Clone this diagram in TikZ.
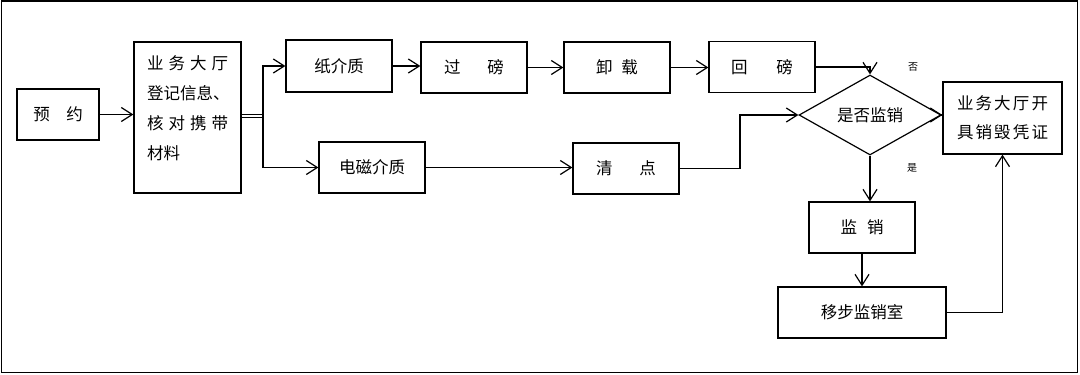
\documentclass[tikz,border=0pt]{standalone}
\usepackage{fontspec}
\setmainfont{Noto Sans CJK SC}
\usetikzlibrary{arrows.meta,shapes.geometric}
\begin{document}
\begin{tikzpicture}[x=1pt,y=-1pt,
  box/.style={draw, line width=1.2pt, inner sep=0pt, minimum width=106pt, minimum height=51pt, font=\fontsize{16.5}{19}\selectfont},
  arr/.style={draw, line width=1.2pt, -{Straight Barb[length=11pt,width=14pt,line width=1.2pt]}},
  lbl/.style={font=\fontsize{10}{12}\selectfont, inner sep=0pt}
]
\useasboundingbox (0,0) rectangle (1080,375);
\draw[line width=1.2pt] (1.2,1.0) rectangle (1077.5,372.5);

\node[box, minimum width=82pt] (yy) at (58,114.5) {预　约};
\node[box, minimum width=107pt, minimum height=151pt] (reg) at (187.5,117.5) {};
\node[anchor=north west, inner sep=0pt, align=left, font=\fontsize{16.5}{30}\selectfont] (regtext) at (147,55)
  {\makebox[81pt][l]{业\hfill 务\hfill 大\hfill 厅}\\
   登记信息、\\
   \makebox[81pt][l]{核\hfill 对\hfill 携\hfill 带}\\
   材料};
\node[box, minimum height=52pt] (paper) at (339,66) {纸介质};
\node[box] (weigh) at (474,67.5) {过\hspace{27pt}磅};
\node[box] (unload) at (617,67.5) {卸\hspace{9pt}载};
\node[box] (reweigh) at (762,67) {回\hspace{29pt}磅};
\node[box] (emag) at (372,167.5) {电磁介质};
\node[box] (count) at (626,168.5) {清\hspace{27pt}点};
\node[draw, line width=1.2pt, diamond, aspect=1.775, minimum width=142pt, minimum height=80pt, inner sep=0pt, font=\fontsize{16.5}{19}\selectfont] (dia) at (870,115) {是否监销};
\node[box, minimum width=119pt, minimum height=72pt, align=center, font=\fontsize{16.5}{29}\selectfont] (cert) at (1002.5,118)
  {\makebox[91pt][l]{业\hfill 务\hfill 大\hfill 厅\hfill 开}\\
   \makebox[91pt][l]{具\hfill 销\hfill 毁\hfill 凭\hfill 证}};
\node[box] (sup) at (862,227.5) {监\hspace{10pt}销};
\node[box, minimum width=168pt] (room) at (862,312.5) {移步监销室};

\node[lbl] (no) at (913,67) {否};
\node[lbl] (yes) at (912,168) {是};

\coordinate (split) at (263,116);
\coordinate (bendA) at (740,168.5);

\draw[arr] (yy.east) -- (yy.east -| reg.west);
\draw[double, double distance=1.6pt, line width=0.8pt] (reg.east |- split) -- (split);
\draw[arr] (split) |- (paper.west);
\draw[arr] (split) |- (emag.west);
\draw[arr] (paper.east) -- (paper.east -| weigh.west);
\draw[arr] (weigh.east) -- (unload.west);
\draw[arr] (unload.east) -- (unload.east -| reweigh.west);
\draw[arr] (reweigh.east) -| (dia.north);
\draw[arr] (emag.east) -- (emag.east -| count.west);
\draw[arr] (count.east) -- (bendA) |- (dia.west);
\draw[arr] (dia.east) -- (dia.east -| cert.west);
\draw[arr] (dia.south) -- (dia.south |- sup.north);
\draw[arr] (sup.south) -- (room.north);
\draw[arr] (room.east) -| (cert.south);
\end{tikzpicture}
\end{document}
